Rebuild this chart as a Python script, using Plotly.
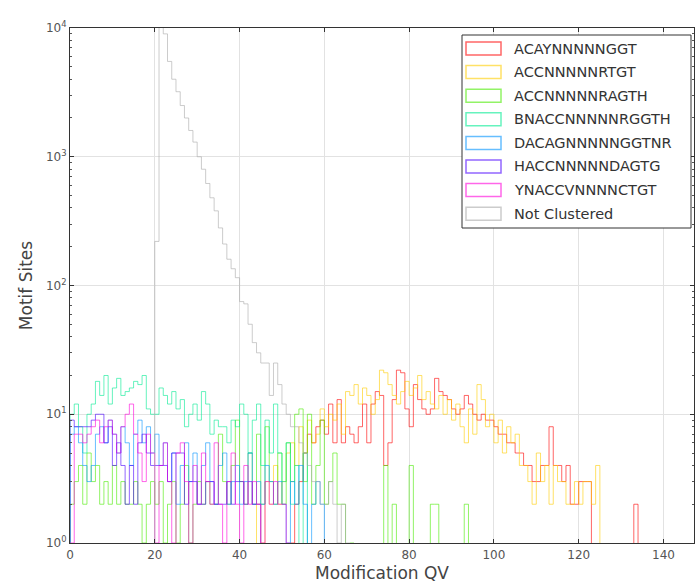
import plotly.graph_objects as go

# ---------------- data (counts per 1-QV bin) ----------------
names = ["ACAYNNNNNGGT", "ACCNNNNNRTGT", "ACCNNNNNRAGTH", "BNACCNNNNNRGGTH",
         "DACAGNNNNNGGTNR", "HACCNNNNNDAGTG", "YNACCVNNNNCTGT", "Not Clustered"]

bin_width = 1

red_start = 52
red_counts = [1, 2, 3, 5, 7, 6, 8, 9, 7, 12, 6, 13, 6, 8, 7, 6, 8, 12, 6, 12, 15, 14, 4, 6, 13,
              22, 21, 11, 8, 17, 13, 11, 10, 11, 19, 15, 14, 13, 11, 10, 11, 14, 12, 10, 9, 10,
              9, 9, 8, 7, 7, 6, 6, 5, 5, 4, 4, 3, 3, 4, 4, 8, 4, 4, 3, 4, 2, 2, 3, 3, 3, 0,
              0, 0, 0, 0, 0, 0, 0, 0, 0, 2]

yellow_start = 44
yellow_counts = [2, 1, 3, 2, 4, 2, 3, 5, 6, 4, 8, 5, 9, 6, 7, 11, 8, 10, 9, 12, 7, 15, 14, 17, 12,
                 16, 14, 10, 13, 22, 21, 17, 14, 12, 15, 18, 14, 16, 20, 13, 15, 12, 11, 14, 10,
                 13, 9, 12, 8, 6, 11, 7, 17, 13, 8, 10, 6, 9, 5, 8, 6, 7, 4, 4, 3, 2, 5, 3, 4, 2,
                 4, 3, 3, 2, 2, 3, 2, 3, 3, 2, 4]

green_start = 0
green_counts = [2, 3, 4, 2, 5, 3, 4, 2, 3, 2, 4, 2, 3, 2, 2, 3, 2, 1, 2, 3, 2, 3, 1, 2, 3, 1, 2, 4,
                1, 2, 3, 2, 3, 2, 2, 7, 3, 2, 4, 9, 3, 2, 5, 2, 7, 2, 8, 3, 2, 5, 2, 6, 3, 10, 11,
                3, 10, 2, 4, 9, 2, 3, 5, 2, 2, 0, 1, 0, 0, 0, 0, 0, 0, 0, 4, 0, 2, 0, 0, 0, 4, 0,
                0, 0, 0, 2, 2, 0, 0, 0, 0, 0, 0, 2]

aqua_start = 0
aqua_counts = [10, 12, 8, 5, 10, 12, 18, 14, 20, 12, 16, 19, 14, 15, 16, 18, 17, 20, 11, 10, 10,
               16, 14, 12, 15, 11, 13, 8, 10, 12, 9, 15, 12, 7, 9, 8, 8, 6, 9, 8, 12, 10, 5, 9,
               12, 4, 9, 5, 12, 5, 3, 6, 2, 4, 0, 5]

azure_start = 0
azure_counts = [7, 8, 6, 4, 3, 4, 7, 8, 6, 9, 7, 5, 8, 6, 4, 7, 9, 6, 8, 5, 7, 4, 6, 3, 5, 2, 4, 6,
                3, 5, 2, 4, 6, 3, 2, 4, 5, 2, 3, 4, 2, 3, 5, 2, 3, 2, 4, 3, 2, 3, 2, 1, 3, 2, 4, 2,
                0, 2, 3, 2]

blue_start = 0
blue_counts = [9, 8, 8, 8, 8, 9, 10, 10, 6, 8, 4, 6, 4, 2, 4, 2, 6, 7, 5, 4, 4, 4, 4, 3, 5, 5, 5, 2,
               3, 3, 2, 2, 3, 3, 2, 2, 2, 3, 2, 3, 3, 2, 3, 2, 2]

magenta_start = 0
magenta_counts = [1, 7, 7, 6, 7, 8, 9, 6, 8, 9, 7, 5, 8, 10, 12, 7, 5, 3, 7, 5, 1, 4, 6, 3, 1, 5,
                  6, 3, 1, 4, 2, 5, 3, 2, 6, 2, 1, 3, 5, 2, 1, 4, 2, 3, 2, 1, 3, 2, 3, 2, 2, 1]

gray_start = 20
gray_counts = [220, 12000, 9000, 5500, 4000, 3200, 2500, 2000, 1600, 1300, 1000, 800, 620, 480,
               380, 280, 210, 160, 135, 115, 75, 72, 50, 36, 30, 25, 25, 14, 25, 17, 12, 10, 8,
               8, 6, 5, 4, 3, 3, 2, 2, 3, 2, 1, 2, 1]

starts = [red_start, yellow_start, green_start, aqua_start, azure_start, blue_start,
          magenta_start, gray_start]
counts = [red_counts, yellow_counts, green_counts, aqua_counts, azure_counts, blue_counts,
          magenta_counts, gray_counts]

# ---------------- styling ----------------
colors = ["rgba(255,0,0,0.6)", "rgba(255,205,0,0.6)", "rgba(73,235,0,0.6)",
          "rgba(0,235,146,0.6)", "rgba(0,146,255,0.6)", "rgba(73,0,255,0.6)",
          "rgba(255,0,219,0.6)", "rgba(170,170,170,0.6)"]

W, H = 699, 585
L, R, T, B = 70, 5, 28, 42
PW, PH = W - L - R, H - T - B
FONT = "DejaVu Sans"
FLOOR = 0.1  # zero counts drawn below the log axis floor


def step_xy(start, cnts):
    edges = [start + i * bin_width for i in range(len(cnts) + 1)]
    ys = [c if c > 0 else FLOOR for c in cnts]
    xs = [edges[0]] + edges
    yy = [FLOOR] + ys + [FLOOR]
    return xs, yy


fig = go.Figure()
for name, st, cn, col in zip(names, starts, counts, colors):
    xs, ys = step_xy(st, cn)
    fig.add_trace(go.Scatter(x=xs, y=ys, mode="lines", line=dict(color=col, width=1, shape="hv"),
                             name=name, showlegend=False, hoverinfo="skip"))


def px2paper(px, py):
    return (px - L) / PW, (H - B - py) / PH


shapes = []
annotations = []
# legend box
x0, y0 = px2paper(462, 35)
x1, y1 = px2paper(691, 228)
shapes.append(dict(type="rect", xref="paper", yref="paper", x0=x0, y0=y1, x1=x1, y1=y0,
                   line=dict(color="#333333", width=1), fillcolor="white", layer="above"))
for i, (name, col) in enumerate(zip(names, colors)):
    cy = 48.5 + 23.6 * i
    a0, b0 = px2paper(466, cy - 6.5)
    a1, b1 = px2paper(501, cy + 6.5)
    shapes.append(dict(type="rect", xref="paper", yref="paper", x0=a0, y0=b1, x1=a1, y1=b0,
                       line=dict(color=col, width=1.5), fillcolor="rgba(0,0,0,0)", layer="above"))
    tx, ty = px2paper(512, cy)
    annotations.append(dict(x=tx, y=ty, xref="paper", yref="paper", text=name, showarrow=False,
                            xanchor="left", yanchor="middle",
                            font=dict(family=FONT, size=14.5, color="#333333")))

y_tickvals = [1, 10, 100, 1000, 10000]
y_ticktext = ["10<sup>0</sup>", "10<sup>1</sup>", "10<sup>2</sup>", "10<sup>3</sup>", "10<sup>4</sup>"]
y_minor = [m * 10 ** k for k in range(0, 4) for m in range(2, 10)]

fig.update_layout(
    width=W, height=H,
    margin=dict(l=L, r=R, t=T, b=B, pad=0),
    paper_bgcolor="white", plot_bgcolor="white",
    shapes=shapes, annotations=annotations,
    showlegend=False,
    xaxis=dict(range=[0, 147.2], tickvals=[0, 20, 40, 60, 80, 100, 120, 140],
               ticks="inside", ticklen=4, tickcolor="#333333", mirror="ticks",
               showline=True, linecolor="#333333", linewidth=1.2,
               showgrid=True, gridcolor="#e2e2e2", gridwidth=1, zeroline=False,
               tickfont=dict(family=FONT, size=12, color="#555555"),
               title=dict(text="Modification QV", standoff=6,
                          font=dict(family=FONT, size=17, color="#444444"))),
    yaxis=dict(type="log", range=[0, 4], tickmode="array", tickvals=y_tickvals,
               ticktext=y_ticktext, ticks="inside", ticklen=4, tickcolor="#333333",
               mirror="ticks", showline=True, linecolor="#333333", linewidth=1.2,
               showgrid=True, gridcolor="#e2e2e2", gridwidth=1, zeroline=False,
               minor=dict(tickmode="array", tickvals=y_minor, ticks="inside", ticklen=2,
                          tickcolor="#555555", showgrid=False),
               tickfont=dict(family=FONT, size=12, color="#555555"),
               title=dict(text="Motif Sites", standoff=8,
                          font=dict(family=FONT, size=17, color="#444444"))),
)

fig.write_html("out.html")
